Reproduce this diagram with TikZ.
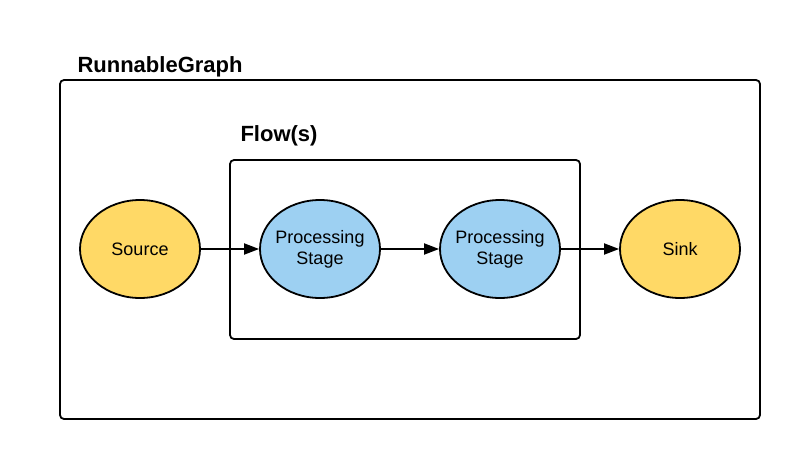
\documentclass[tikz,border=0pt]{standalone}
\usepackage{fontspec}
\setmainfont{Liberation Sans}
\usetikzlibrary{arrows.meta,shapes.geometric}
\definecolor{sourceyellow}{RGB}{255,217,102}
\definecolor{stageblue}{RGB}{157,208,242}
\tikzset{
    container/.style={draw, line width=1.8pt, rounded corners=4pt},
    boxtitle/.style={anchor=west, font=\fontsize{22}{26}\selectfont\bfseries},
    endpoint/.style={ellipse, draw, line width=1.8pt, fill=sourceyellow, minimum width=120pt, minimum height=98pt, inner sep=-6pt, font=\fontsize{18}{21}\selectfont, align=center},
    stage/.style={endpoint, fill=stageblue},
    flowarrow/.style={-{Triangle[length=15pt,width=11pt]}, line width=1.8pt}
}
\begin{document}
\begin{tikzpicture}[x=1pt, y=-1pt]
        \useasboundingbox (0,0) rectangle (800,460);

        % Boxes
        \draw[container] (60,80) rectangle (760,419);
        \node[boxtitle] (GraphTitle) at (74,67) {RunnableGraph};
        \draw[container] (230,160) rectangle (580,339);
        \node[boxtitle] (FlowTitle) at (237,136) {Flow(s)};

        % Nodes
        \node[endpoint] (Source) at (140,249) {Source};
        \node[stage] (StageOne) at (320,249) {Processing\\Stage};
        \node[stage] (StageTwo) at (500,249) {Processing\\Stage};
        \node[endpoint] (Sink) at (680,249) {Sink};

        % Arrows
        \draw[flowarrow] (Source) -- (StageOne);
        \draw[flowarrow] (StageOne) -- (StageTwo);
        \draw[flowarrow] (StageTwo) -- (Sink);
    \end{tikzpicture}
\end{document}
